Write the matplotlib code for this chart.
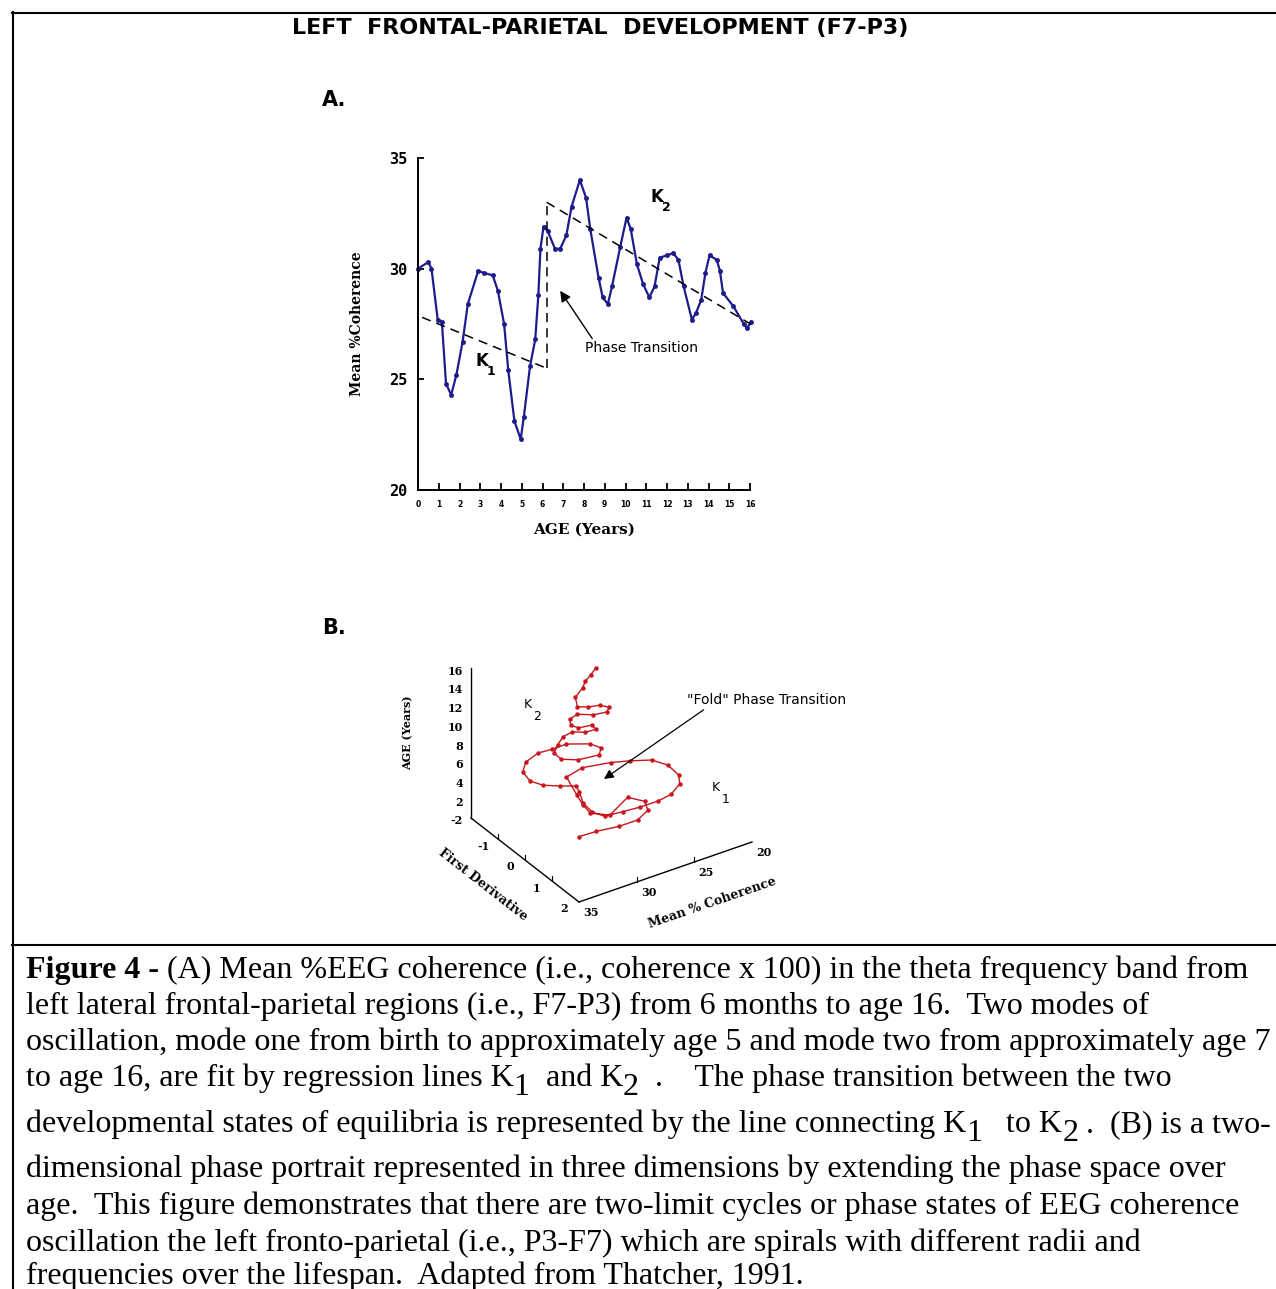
import numpy as np
import matplotlib
matplotlib.use("Agg")
import matplotlib.pyplot as plt

# ============================================================================
# DADOS
# ============================================================================
W, H = 1276, 1289

# painel A: coerencia media (%) x idade (anos)
idade = [0.0, 0.5, 0.65, 0.95, 1.15, 1.35, 1.6, 1.85, 2.15, 2.4,
         2.9, 3.2, 3.6, 3.85, 4.15, 4.35, 4.65, 4.95, 5.1, 5.4,
         5.65, 5.8, 5.9, 6.05, 6.25, 6.6, 6.85, 7.15, 7.4, 7.8,
         8.1, 8.3, 8.7, 8.9, 9.15, 9.35, 9.75, 10.05, 10.25, 10.55,
         10.85, 11.15, 11.4, 11.65, 12.0, 12.3, 12.55, 12.8, 13.2, 13.4,
         13.65, 13.85, 14.05, 14.4, 14.55, 14.7, 15.2, 15.7, 15.85, 16.05]
coerencia = [30.0, 30.3, 30.0, 27.7, 27.6, 24.8, 24.3, 25.2, 26.7, 28.4,
             29.9, 29.8, 29.7, 29.0, 27.5, 25.4, 23.1, 22.3, 23.3, 25.6,
             26.8, 28.8, 30.9, 31.9, 31.7, 30.9, 30.9, 31.5, 32.8, 34.0,
             33.2, 31.8, 29.6, 28.7, 28.4, 29.2, 31.0, 32.3, 31.8, 30.2,
             29.3, 28.7, 29.2, 30.5, 30.6, 30.7, 30.4, 29.2, 27.7, 28.0,
             28.6, 29.8, 30.6, 30.4, 29.9, 28.9, 28.3, 27.5, 27.3, 27.6]

# retas de regressao K1, K2 e a transicao de fase
k1_idade = [0.2, 6.2]
k1_coer = [27.8, 25.5]
k2_idade = [6.2, 16.2]
k2_coer = [33.0, 27.4]
trans_idade = [6.2, 6.2]
trans_coer = [25.5, 33.0]

anos_ticks = list(range(17))
coer_ticks = [20, 25, 30, 35]

# painel B: retrato de fase (coerencia, primeira derivada, idade)
b_idade = [0.0, 0.25, 0.5, 0.75, 1.0, 1.25, 1.5, 1.75, 2.0, 2.25,
           2.5, 2.75, 3.0, 3.25, 3.5, 3.75, 4.0, 4.25, 4.5, 4.75,
           5.0, 5.25, 5.5, 5.75, 6.0, 6.2, 6.4, 6.6, 6.8, 7.0,
           7.2, 7.4, 7.6, 7.8, 8.0, 8.2, 8.4, 8.6, 8.8, 9.0,
           9.2, 9.4, 9.6, 9.8, 10.0, 10.2, 10.4, 10.6, 10.8, 11.0,
           11.3, 11.6, 11.9, 12.2, 12.5, 12.8, 13.1, 13.4, 13.8, 14.3,
           14.8, 15.4, 16.0]
b_coer = [30.0, 28.7, 27.1, 25.7, 24.5, 24.2, 25.1, 27.7, 28.9, 28.9,
          28.7, 28.1, 26.6, 24.7, 23.6, 22.4, 22.0, 22.3, 23.1, 24.6,
          26.1, 27.8, 29.4, 31.0, 31.6, 31.6, 31.1, 31.0, 32.1, 33.2,
          33.8, 33.7, 32.9, 31.6, 30.6, 29.5, 28.2, 28.0, 28.8, 30.6,
          31.7, 31.8, 31.1, 30.3, 29.5, 28.9, 28.2, 28.2, 29.4, 29.8,
          29.6, 29.0, 28.3, 27.5, 27.2, 27.8, 28.9, 29.7, 29.4, 28.6,
          28.3, 27.9, 27.5]
b_deriv = [-0.15, -0.05, 0.12, 0.20, 0.07, -0.18, -0.43, 0.03, -0.18, -0.46,
           -0.76, -1.41, -1.46, -1.23, -0.99, -0.69, -0.26, 0.27, 0.65, 0.97,
           1.12, 1.19, 1.22, 1.24, 1.04, 0.70, 0.35, 0.18, 0.06, -0.10,
           -0.32, -0.64, -0.87, -0.97, -0.87, -0.82, -0.49, -0.17, 0.10, 0.08,
           -0.07, -0.29, -0.46, -0.60, -0.60, -0.37, -0.29, -0.41, -0.41, -0.53,
           -0.64, -0.63, -0.33, -0.18, -0.21, -0.30, -0.28, -0.32, -0.53, -0.60,
           -0.63, -0.60, -0.58]

b_idade_ticks = [16, 14, 12, 10, 8, 6, 4, 2, 0]
b_idade_rotulos = ["16", "14", "12", "10", "8", "6", "4", "2", "-2"]
b_deriv_ticks = [-1, 0, 1, 2]
b_coer_ticks = [20, 25, 30, 35]

# ============================================================================
# FIGURA
# ============================================================================
fig = plt.figure(figsize=(W / 100, H / 100), dpi=100)
pg = fig.add_axes([0, 0, 1, 1])
pg.set_xlim(0, W)
pg.set_ylim(H, 0)
pg.axis("off")

# moldura
pg.plot([12, W], [12.5, 12.5], color="black", lw=1.5)
pg.plot([12.5, 12.5], [12, H], color="black", lw=1.5)
pg.plot([12, W], [945, 945], color="black", lw=1.5)

NARROW = ["Liberation Sans Narrow", "DejaVu Sans"]
pg.text(600, 28, "LEFT  FRONTAL-PARIETAL  DEVELOPMENT (F7-P3)", ha="center", va="center",
        fontsize=16, weight="bold", family=NARROW)
pg.text(322, 100, "A.", ha="left", va="center", fontsize=15, weight="bold", family=NARROW)
pg.text(322, 628, "B.", ha="left", va="center", fontsize=15, weight="bold", family=NARROW)


def caixa(x0, y0, x1, y1):
    return [x0 / W, 1 - y1 / H, (x1 - x0) / W, (y1 - y0) / H]


# ------------------- PAINEL A -------------------
AZUL = "#1c1c8c"
ax = fig.add_axes(caixa(418, 158, 750, 490))
ax.set_facecolor("none")
ax.plot(idade, coerencia, color=AZUL, lw=1.6, marker="o", ms=2.5, clip_on=False)
ax.plot(k1_idade, k1_coer, color="black", lw=1.1, dashes=(6, 4))
ax.plot(k2_idade, k2_coer, color="black", lw=1.1, dashes=(6, 4), clip_on=False)
ax.plot(trans_idade, trans_coer, color="black", lw=1.1, dashes=(6, 4))
ax.set_xlim(0, 16)
ax.set_ylim(20, 35)
for s in ["top", "right"]:
    ax.spines[s].set_visible(False)
for s in ["left", "bottom"]:
    ax.spines[s].set_linewidth(1.4)
ax.set_xticks(anos_ticks)
ax.set_xticklabels([str(a) for a in anos_ticks], fontsize=5.5, weight="bold")
ax.set_yticks(coer_ticks)
ax.set_yticklabels([str(c) for c in coer_ticks], fontsize=11, weight="bold",
                   family="DejaVu Sans Mono")
ax.tick_params(axis="x", direction="in", length=5, width=1.3, pad=7)
ax.tick_params(axis="y", direction="in", length=4, width=1.3, pad=8)
ax.set_xlabel("AGE (Years)", fontsize=11, weight="bold", family="DejaVu Serif", labelpad=10)
ax.set_ylabel("Mean %Coherence", fontsize=10, weight="bold", family="DejaVu Serif", labelpad=18)

ax.text(2.75, 25.6, "K", fontsize=12, weight="bold", ha="left", va="baseline")
ax.text(3.3, 25.2, "1", fontsize=9, weight="bold", ha="left", va="baseline")
ax.text(11.2, 33.0, "K", fontsize=12, weight="bold", ha="left", va="baseline")
ax.text(11.75, 32.6, "2", fontsize=9, weight="bold", ha="left", va="baseline")
ax.annotate("Phase Transition", xy=(6.85, 29.0), xytext=(8.05, 26.4),
            fontsize=10, ha="left", va="center",
            arrowprops=dict(arrowstyle="-|>", color="black", lw=1.0,
                            mutation_scale=16, shrinkA=0, shrinkB=0,
                            relpos=(0.08, 1.0)))

# ------------------- PAINEL B -------------------
VERMELHO = "#c8161c"
ORIGEM = (471.0, 818.0)          # canto: deriv=-2, coer=35, idade=0
V_DERIV = (27.0, 21.0)           # px por unidade de derivada
V_COER = (-11.53, 4.0)           # px por unidade de coerencia
V_IDADE = (0.0, -9.36)           # px por ano


def proj(c, d, a):
    c = np.asarray(c, float) - 35
    d = np.asarray(d, float) + 2
    a = np.asarray(a, float)
    x = ORIGEM[0] + d * V_DERIV[0] + c * V_COER[0] + a * V_IDADE[0]
    y = ORIGEM[1] + d * V_DERIV[1] + c * V_COER[1] + a * V_IDADE[1]
    return x, y


# eixos do retrato de fase
x, y = proj([35, 35], [-2, -2], [0, 16])
pg.plot(x, y, color="black", lw=1.0)
x, y = proj([35, 35], [-2, 2], [0, 0])
pg.plot(x, y, color="black", lw=1.0)
x, y = proj([35, 20], [2, 2], [0, 0])
pg.plot(x, y, color="black", lw=1.0)

BFONT = dict(fontsize=8, weight="bold", family="DejaVu Serif")
for a, r in zip(b_idade_ticks, b_idade_rotulos):
    x, y = proj(35, -2, a)
    pg.text(x - 8, y + 3, r, ha="right", va="center", **BFONT)
for d in b_deriv_ticks:
    x, y = proj(35, d, 0)
    if d < 2:
        pg.plot([x, x], [y, y - 5], color="black", lw=0.8)
    pg.text(x - 15, y + 7, str(d), ha="center", va="center", **BFONT)
for c in b_coer_ticks:
    x, y = proj(c, 2, 0)
    if 20 < c < 35:
        pg.plot([x, x], [y, y - 5], color="black", lw=0.8)
    pg.text(x + 12, y + 10, str(c), ha="center", va="center", **BFONT)

pg.text(408, 733, "AGE (Years)", rotation=90, ha="center", va="center", **BFONT)
pg.text(483, 885, "First Derivative", rotation=-38, ha="center", va="center",
        fontsize=9, weight="bold", family="DejaVu Serif")
pg.text(712, 903, "Mean % Coherence", rotation=19, ha="center", va="center",
        fontsize=9, weight="bold", family="DejaVu Serif")

x, y = proj(b_coer, b_deriv, b_idade)
pg.plot(x, y, color=VERMELHO, lw=1.0, marker="o", ms=2.2)

pg.text(524, 708, "K", fontsize=9, ha="left", va="baseline")
pg.text(533, 720, "2", fontsize=9, ha="left", va="baseline")
pg.text(712, 791, "K", fontsize=9, ha="left", va="baseline")
pg.text(722, 803, "1", fontsize=9, ha="left", va="baseline")
pg.annotate('"Fold" Phase Transition', xy=(604, 779), xytext=(687, 700),
            fontsize=10, ha="left", va="center",
            arrowprops=dict(arrowstyle="-|>", color="black", lw=0.9,
                            mutation_scale=14, shrinkA=0, shrinkB=0,
                            relpos=(0.13, 0.0)))

# ------------------- LEGENDA (texto) -------------------
renderer = fig.canvas.get_renderer()
FS = 23.0


def linha(y, partes):
    xx = 26
    for txt, dy, peso in partes:
        t = pg.text(xx, y + dy, txt, fontsize=FS, family="Liberation Serif",
                    weight=peso, ha="left", va="baseline")
        xx = t.get_window_extent(renderer).x1


linha(978, [("Figure 4 -", 0, "bold"),
            (" (A) Mean %EEG coherence (i.e., coherence x 100) in the theta frequency band from", 0, "normal")])
linha(1014, [("left lateral frontal-parietal regions (i.e., F7-P3) from 6 months to age 16.  Two modes of", 0, "normal")])
linha(1050, [("oscillation, mode one from birth to approximately age 5 and mode two from approximately age 7", 0, "normal")])
linha(1086, [("to age 16, are fit by regression lines K", 0, "normal"), ("1", 9, "normal"),
             ("  and K", 0, "normal"), ("2", 9, "normal"),
             ("  .    The phase transition between the two", 0, "normal")])
linha(1132, [("developmental states of equilibria is represented by the line connecting K", 0, "normal"),
             ("1", 9, "normal"), ("   to K", 0, "normal"), ("2", 9, "normal"),
             (" .  (B) is a two-", 0, "normal")])
linha(1177, [("dimensional phase portrait represented in three dimensions by extending the phase space over", 0, "normal")])
linha(1214, [("age.  This figure demonstrates that there are two-limit cycles or phase states of EEG coherence", 0, "normal")])
linha(1251, [("oscillation the left fronto-parietal (i.e., P3-F7) which are spirals with different radii and", 0, "normal")])
linha(1284, [("frequencies over the lifespan.  Adapted from Thatcher, 1991.", 0, "normal")])

fig.savefig("out.png", dpi=100)
